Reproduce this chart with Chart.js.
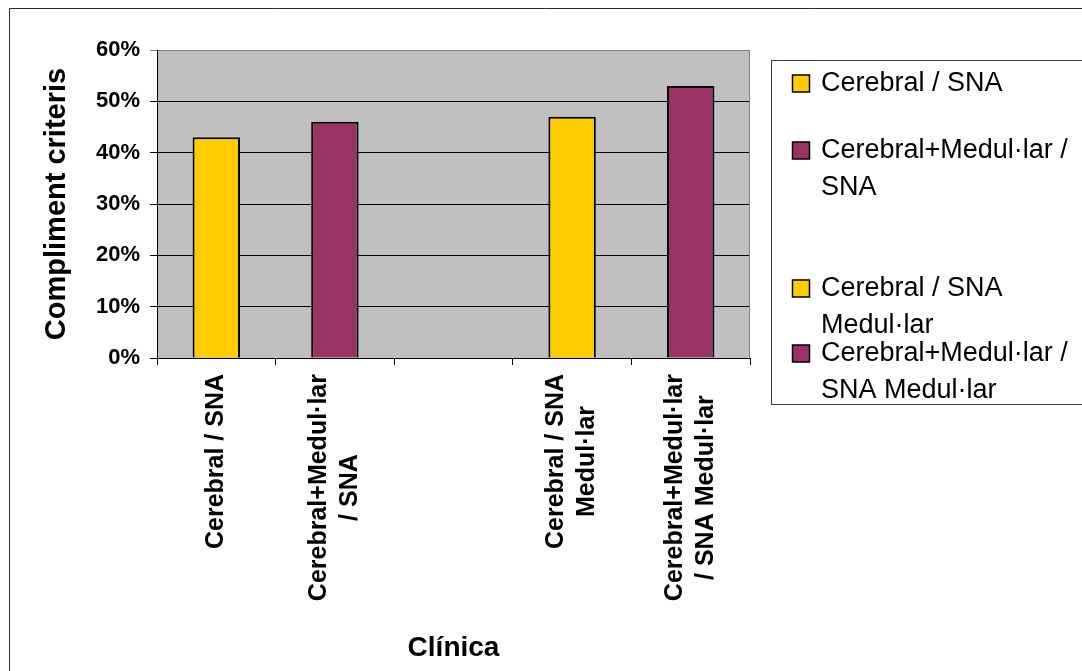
<!DOCTYPE html>
<html>
<head>
<meta charset="utf-8">
<title>Compliment criteris</title>
<script src="https://cdn.jsdelivr.net/npm/chart.js@4/dist/chart.umd.min.js"></script>
<style>
  html, body { margin: 0; padding: 0; background: #ffffff; }
  #wrap { width: 1082px; height: 671px; position: relative; overflow: hidden; }
  canvas { display: block; }
</style>
</head>
<body>
<div id="wrap"><canvas id="chart" width="1082" height="671"></canvas></div>
<script>
// Category labels (one array per category, one entry per text line)
const categories = [
  ["Cerebral / SNA"],
  ["Cerebral+Medul·lar", "/ SNA"],
  [""],
  ["Cerebral / SNA", "Medul·lar"],
  ["Cerebral+Medul·lar", "/ SNA Medul·lar"]
];

// Series names as shown in the legend
const seriesNames = [
  "Cerebral / SNA",
  "Cerebral+Medul·lar / SNA",
  "Cerebral / SNA Medul·lar",
  "Cerebral+Medul·lar / SNA Medul·lar"
];

// Percentage of criteria met, one series per group
const cerebralSna       = [43, null, null, null, null];
const cerebralMedSna    = [null, 46, null, null, null];
const cerebralSnaMed    = [null, null, null, 47, null];
const cerebralMedSnaMed = [null, null, null, null, 53];

const seriesColors = ["#FFCC00", "#993366", "#FFCC00", "#993366"];

// Value axis
const yMin = 0;
const yMax = 60;
const yStep = 10;

const FONT = "'Liberation Sans', Arial, sans-serif";

// Legend layout (first-line centre of each entry)
const legendBox = { x: 771.5, y: 60.5, w: 420, h: 344 };
const legendRowY = [83, 150, 288, 353];
const legendLineH = 37;

const seriesData = [cerebralSna, cerebralMedSna, cerebralSnaMed, cerebralMedSnaMed];

const backgroundPlugin = {
  id: "pageAndPlot",
  beforeDraw(chart) {
    const { ctx, chartArea: a } = chart;
    ctx.save();
    ctx.fillStyle = "#ffffff";
    ctx.fillRect(0, 0, chart.width, chart.height);
    // outer frame
    ctx.strokeStyle = "#2b2b2b";
    ctx.lineWidth = 1;
    ctx.beginPath();
    ctx.moveTo(9.5, chart.height);
    ctx.lineTo(9.5, 8.5);
    ctx.lineTo(chart.width, 8.5);
    ctx.stroke();
    // plot area fill
    ctx.fillStyle = "#C0C0C0";
    ctx.fillRect(a.left, a.top, a.right - a.left, a.bottom - a.top);
    ctx.restore();
  },
  beforeDatasetsDraw(chart) {
    const { ctx, chartArea: a } = chart;
    ctx.save();
    ctx.strokeStyle = "#808080";
    ctx.lineWidth = 1;
    ctx.beginPath();
    ctx.moveTo(Math.round(a.right) - 0.5, a.top);
    ctx.lineTo(Math.round(a.right) - 0.5, a.bottom);
    ctx.stroke();
    ctx.restore();
  }
};

// Rotated, centre-justified multi-line category labels
const categoryLabelPlugin = {
  id: "categoryLabels",
  afterDraw(chart) {
    const { ctx, chartArea: a } = chart;
    const xs = chart.scales.x;
    const labels = chart.data.labels;
    const lineGap = 31;
    ctx.save();
    ctx.font = "bold 25px " + FONT;
    ctx.fillStyle = "#000000";
    ctx.textAlign = "center";
    ctx.textBaseline = "middle";
    labels.forEach((lines, i) => {
      const x = xs.getPixelForTick(i);
      const maxW = Math.max(...lines.map(l => ctx.measureText(l).width));
      const yTop = a.bottom + 16;
      const cy = yTop + maxW / 2;
      const n = lines.length;
      lines.forEach((line, k) => {
        ctx.save();
        ctx.translate(x + (k - (n - 1) / 2) * lineGap, cy);
        ctx.rotate(-Math.PI / 2);
        ctx.fillText(line, 0, 0);
        ctx.restore();
      });
    });
    ctx.restore();
  }
};

// Boxed legend with wrapped entries
const legendPlugin = {
  id: "boxLegend",
  afterDraw(chart) {
    const { ctx } = chart;
    ctx.save();
    ctx.strokeStyle = "#404040";
    ctx.lineWidth = 1;
    ctx.strokeRect(legendBox.x, legendBox.y, legendBox.w, legendBox.h);
    ctx.font = "27px " + FONT;
    ctx.textBaseline = "middle";
    ctx.textAlign = "left";
    const textX = 821;
    const maxW = 262;
    chart.data.datasets.forEach((ds, i) => {
      const rowY = legendRowY[i] + 1;
      ctx.fillStyle = ds.backgroundColor;
      ctx.fillRect(792.5, rowY - 9, 17, 17);
      ctx.strokeStyle = "#000000";
      ctx.lineWidth = 1.5;
      ctx.strokeRect(792.5, rowY - 9, 17, 17);
      // word wrap
      const words = ds.label.split(" ");
      const lines = [];
      let cur = "";
      words.forEach(w => {
        const test = cur ? cur + " " + w : w;
        if (cur && ctx.measureText(test).width > maxW) {
          lines.push(cur);
          cur = w;
        } else {
          cur = test;
        }
      });
      if (cur) lines.push(cur);
      ctx.fillStyle = "#000000";
      lines.forEach((l, k) => ctx.fillText(l, textX, rowY + k * legendLineH));
    });
    ctx.restore();
  }
};

new Chart(document.getElementById("chart"), {
  type: "bar",
  data: {
    labels: categories,
    datasets: seriesNames.map((name, i) => ({
      label: name,
      data: seriesData[i],
      backgroundColor: seriesColors[i],
      borderColor: "#000000",
      borderWidth: 2,
      skipNull: true,
      categoryPercentage: 1.0,
      barPercentage: 0.4
    }))
  },
  options: {
    responsive: false,
    devicePixelRatio: 1,
    animation: false,
    layout: { padding: { left: 0, top: 50, right: 332, bottom: 0 } },
    plugins: {
      legend: { display: false },
      tooltip: { enabled: false }
    },
    scales: {
      x: {
        type: "category",
        offset: true,
        grid: {
          offset: true,
          drawOnChartArea: false,
          drawTicks: true,
          tickLength: 7,
          color: "#000000"
        },
        border: { color: "#000000", width: 1 },
        ticks: { display: false },
        title: {
          display: true,
          text: "Clínica",
          color: "#000000",
          font: { family: FONT, size: 28, weight: "bold" },
          padding: { top: 0, bottom: 6 }
        },
        afterFit(scale) { scale.height = 313; }
      },
      y: {
        min: yMin,
        max: yMax,
        ticks: {
          stepSize: yStep,
          padding: 10,
          color: "#000000",
          font: { family: FONT, size: 22, weight: "bold" },
          callback: v => v + "%"
        },
        grid: {
          drawTicks: true,
          tickLength: 7,
          color: c => (c.tick && c.tick.value === yMax ? "#808080" : "#000000"),
          lineWidth: 1
        },
        border: { color: "#000000", width: 1 },
        title: {
          display: true,
          text: "Compliment criteris",
          color: "#000000",
          font: { family: FONT, size: 29, weight: "bold" },
          padding: { top: 40, bottom: 0 }
        },
        afterFit(scale) { scale.width = 157; }
      }
    }
  },
  plugins: [backgroundPlugin, categoryLabelPlugin, legendPlugin]
});
</script>
</body>
</html>
